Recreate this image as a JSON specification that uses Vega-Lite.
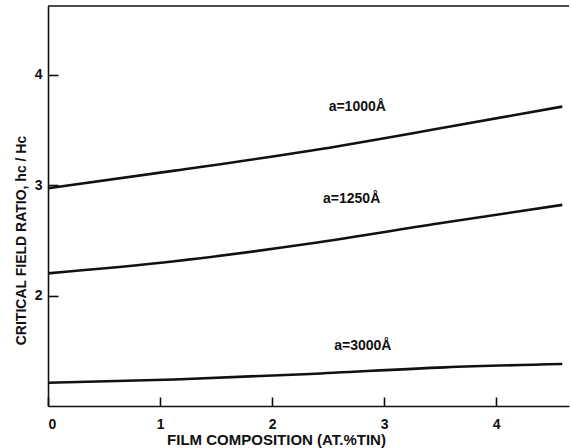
{
  "$schema": "https://vega.github.io/schema/vega-lite/v6.json",
  "width": 521,
  "height": 400,
  "autosize": {"type": "none"},
  "padding": {"left": 48, "top": 6, "right": 2, "bottom": 42},
  "background": "white",
  "config": {
    "view": {"stroke": null},
    "font": "Liberation Sans",
    "axis": {
      "domainColor": "#111",
      "domainWidth": 1.6,
      "tickColor": "#111",
      "tickWidth": 1.6,
      "labelColor": "#111",
      "titleColor": "#111",
      "labelFont": "Liberation Sans",
      "titleFont": "Liberation Sans",
      "labelFontWeight": "bold",
      "titleFontWeight": "bold",
      "grid": false
    }
  },
  "datasets": {
    "curves": [
      {"comp": 0.0, "ratio": 2.97, "series": "a=1000Å"},
      {"comp": 1.13, "ratio": 3.13, "series": "a=1000Å"},
      {"comp": 2.34, "ratio": 3.31, "series": "a=1000Å"},
      {"comp": 3.54, "ratio": 3.52, "series": "a=1000Å"},
      {"comp": 4.59, "ratio": 3.71, "series": "a=1000Å"},
      {"comp": 0.0, "ratio": 2.2, "series": "a=1250Å"},
      {"comp": 1.13, "ratio": 2.31, "series": "a=1250Å"},
      {"comp": 2.34, "ratio": 2.47, "series": "a=1250Å"},
      {"comp": 3.54, "ratio": 2.66, "series": "a=1250Å"},
      {"comp": 4.59, "ratio": 2.82, "series": "a=1250Å"},
      {"comp": 0.0, "ratio": 1.21, "series": "a=3000Å"},
      {"comp": 1.13, "ratio": 1.24, "series": "a=3000Å"},
      {"comp": 2.34, "ratio": 1.29, "series": "a=3000Å"},
      {"comp": 3.54, "ratio": 1.35, "series": "a=3000Å"},
      {"comp": 4.59, "ratio": 1.38, "series": "a=3000Å"}
    ],
    "labels": [
      {"comp": 2.76, "ratio": 3.71, "text": "a=1000Å"},
      {"comp": 2.71, "ratio": 2.87, "text": "a=1250Å"},
      {"comp": 2.81, "ratio": 1.54, "text": "a=3000Å"}
    ]
  },
  "layer": [
    {
      "data": {"name": "curves"},
      "mark": {"type": "line", "color": "#111", "strokeWidth": 2.6, "interpolate": "monotone"},
      "encoding": {
        "x": {
          "field": "comp", "type": "quantitative",
          "scale": {"domain": [0, 4.65], "nice": false, "zero": false},
          "axis": {
            "values": [0, 1, 2, 3, 4],
            "format": "d",
            "tickSize": -9,
            "labelFontSize": 14,
            "labelPadding": 20,
            "title": "FILM  COMPOSITION  (AT.%TIN)",
            "titleFontSize": 15,
            "titlePadding": 1,
            "titleX": 228
          }
        },
        "y": {
          "field": "ratio", "type": "quantitative",
          "scale": {"domain": [1, 4.62], "nice": false, "zero": false},
          "axis": {
            "values": [2, 3, 4],
            "format": "d",
            "tickSize": -10,
            "labelFontSize": 14,
            "labelPadding": 16,
            "title": "CRITICAL  FIELD  RATIO,  hc / Hc",
            "titleFontSize": 14,
            "titlePadding": 6,
            "titleY": 234,
            "titleAngle": -90,
            "titleAlign": "center",
            "titleBaseline": "bottom"
          }
        },
        "detail": {"field": "series"}
      }
    },
    {
      "data": {"name": "labels"},
      "mark": {"type": "text", "font": "Liberation Sans", "fontWeight": "bold", "fontSize": 14, "color": "#111"},
      "encoding": {
        "x": {"field": "comp", "type": "quantitative"},
        "y": {"field": "ratio", "type": "quantitative"},
        "text": {"field": "text"}
      }
    },
    {
      "data": {"values": [{"comp": 0, "ratio": 4.62}, {"comp": 4.65, "ratio": 4.62}]},
      "mark": {"type": "rule", "color": "#111", "strokeWidth": 1.6},
      "encoding": {
        "x": {"field": "comp", "type": "quantitative", "aggregate": "min"},
        "x2": {"field": "comp", "aggregate": "max"},
        "y": {"field": "ratio", "type": "quantitative", "aggregate": "max"}
      }
    }
  ]
}
